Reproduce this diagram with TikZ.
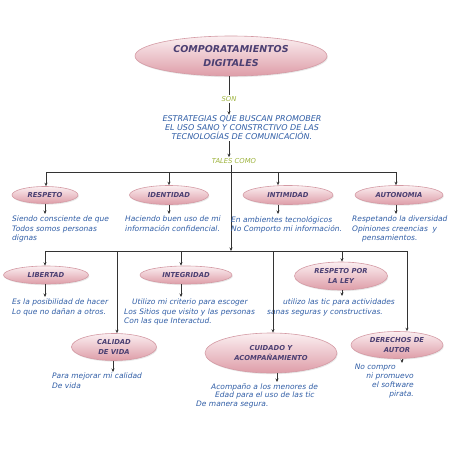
\documentclass[tikz,border=0pt]{standalone}
\usepackage{fontspec}
\setmainfont{DejaVu Sans}
\usetikzlibrary{arrows.meta,shapes.geometric,shadows}
\definecolor{txtblue}{HTML}{2F5DA6}
\definecolor{lblpurple}{HTML}{4B3F72}
\definecolor{songreen}{HTML}{9DB33C}
\definecolor{pinktop}{HTML}{FBEFF1}
\definecolor{pinkfill}{HTML}{DE9DA8}
\definecolor{pinkdraw}{HTML}{D49AA4}
\definecolor{linegray}{HTML}{333333}
\tikzset{
  ell/.style={ellipse, draw=pinkdraw, line width=0.6pt, top color=pinktop, bottom color=pinkfill,
    inner sep=0pt, font=\fontsize{6.8}{9.5}\selectfont\bfseries\itshape, text=lblpurple, align=center,
    drop shadow={opacity=0.18, shadow xshift=0.8pt, shadow yshift=-1.2pt}},
  body/.style={font=\fontsize{7.5}{9.5}\selectfont\itshape, text=txtblue, inner sep=0pt, align=left, anchor=north west},
  link/.style={draw=linegray, line width=0.7pt},
  arr/.style={link, -{Stealth[length=3.5pt,width=3pt]}},
}
\begin{document}
\begin{tikzpicture}[x=1pt,y=-1pt]
\useasboundingbox[fill=white] (0,0) rectangle (453,453);
% title
\node[ell, minimum width=192pt, minimum height=40pt, font=\fontsize{9.5}{14}\selectfont\bfseries\itshape] (title) at (231,56) {COMPORATAMIENTOS\\DIGITALES};
\node[font=\fontsize{6.8}{8}\selectfont\itshape, text=songreen, inner sep=1pt] (son) at (229,99) {SON};
\node[font=\fontsize{8}{9}\selectfont\itshape, text=txtblue, align=center, inner sep=1pt] (estr) at (242,128) {ESTRATEGIAS QUE BUSCAN PROMOBER\\EL USO SANO Y CONSTRCTIVO DE LAS\\TECNOLOGÍAS DE COMUNICACIÓN.};
\node[font=\fontsize{6.8}{8}\selectfont\itshape, text=songreen, inner sep=1pt] (tales) at (234,161) {TALES COMO};
\draw[link] (son.north |- title.south) -- (son.north);
\draw[arr] (son.south) -- (son.south |- estr.north);
\draw[arr] (son.south |- estr.south) -- (son.south |- tales.north);
% junctions
\coordinate (j1) at (231,172);
\coordinate (j2) at (231,251);
\coordinate (b1l) at (46,172);
\coordinate (b1b) at (169,172);
\coordinate (b1c) at (278,172);
\coordinate (b1r) at (396,172);
\coordinate (b2a) at (45,251);
\coordinate (b2b) at (117,251);
\coordinate (b2c) at (181,251);
\coordinate (b2d) at (273,251);
\coordinate (b2e) at (342,251);
\coordinate (b2f) at (407,251);
\draw[arr] (tales.south -| j1) -- (j2);
\draw[link] (b1l) -- (b1r);
\draw[link] (b2a) -- (b2f);
% row 1
\node[ell, minimum width=66pt, minimum height=17pt] (respeto) at (45,195) {RESPETO};
\node[ell, minimum width=79pt, minimum height=19pt] (identidad) at (169,195) {IDENTIDAD};
\node[ell, minimum width=90pt, minimum height=19pt] (intimidad) at (288,195) {INTIMIDAD};
\node[ell, minimum width=88pt, minimum height=19pt] (autonomia) at (399,195) {AUTONOMIA};
\draw[arr] (b1l) -- (b1l |- respeto.north);
\draw[arr] (b1b) -- (b1b |- identidad.north);
\draw[arr] (b1c) -- (b1c |- intimidad.north);
\draw[arr] (b1r) -- (b1r |- autonomia.north);
\node[body] (rtxt) at (12,216) {Siendo consciente de que\\Todos somos personas\\dignas};
\node[body] (idtxt) at (125,216) {Haciendo buen uso de mi\\información confidencial.};
\node[body] (intxt) at (231,216) {En ambientes tecnológicos\\No Comporto mi información.};
\node[body] (autxt) at (352,216) {Respetando la diversidad\\Opiniones creencias\ \ y\\\hspace*{10pt}pensamientos.};
\draw[arr, shorten >=2pt] (respeto.south) -- (respeto.south |- rtxt.north);
\draw[arr, shorten >=2pt] (identidad.south -| b1b) -- (b1b |- idtxt.north);
\draw[arr, shorten >=2pt] (intimidad.south -| b1c) -- (b1c |- intxt.north);
\draw[arr, shorten >=2pt] (autonomia.south -| b1r) -- (b1r |- autxt.north);
% row 2
\node[ell, minimum width=85pt, minimum height=18pt] (libertad) at (46,275) {LIBERTAD};
\node[ell, minimum width=92pt, minimum height=18pt] (integridad) at (186,275) {INTEGRIDAD};
\node[ell, minimum width=93pt, minimum height=28pt] (ley) at (341,276) {RESPETO POR\\LA LEY};
\draw[arr] (b2a) -- (b2a |- libertad.north);
\draw[arr] (b2c) -- (b2c |- integridad.north);
\draw[arr] (b2e) -- (b2e |- ley.north);
\node[body] (libtxt) at (12,299) {Es la posibilidad de hacer\\Lo que no dañan a otros.};
\node[body] (intgtxt) at (124,299) {\hspace*{8pt}Utilizo mi criterio para escoger\\Los Sitios que visito y las personas\\Con las que Interactud.};
\node[body] (leytxt) at (267,299) {\hspace*{16pt}utilizo las tic para actividades\\sanas seguras y constructivas.};
\draw[arr, shorten >=2pt] (libertad.south -| b2a) -- (b2a |- libtxt.north);
\draw[arr, shorten >=2pt] (integridad.south -| b2c) -- (b2c |- intgtxt.north);
\draw[arr, shorten >=3pt] (ley.south -| b2e) -- (b2e |- leytxt.north);
% row 3
\node[ell, minimum width=85pt, minimum height=27pt] (calidad) at (114,347) {CALIDAD\\DE VIDA};
\node[ell, minimum width=132pt, minimum height=40pt] (cuidado) at (271,353) {CUIDADO Y\\ACOMPAÑAMIENTO};
\node[ell, minimum width=92pt, minimum height=27pt] (derechos) at (397,345) {DERECHOS DE\\AUTOR};
\draw[arr] (b2b) -- (b2b |- calidad.north);
\draw[arr] (b2d) -- (b2d |- cuidado.north);
\draw[arr] (b2f) -- (b2f |- derechos.north);
\node[body] (caltxt) at (52,373) {Para mejorar mi calidad\\De vida};
\node[body, font=\fontsize{7.5}{8.5}\selectfont\itshape] (cuitxt) at (196,383) {\hspace*{15pt}Acompaño a los menores de\\\hspace*{19pt}Edad para el uso de las tic\\De manera segura.};
\node[body, align=right, anchor=north east, font=\fontsize{7.5}{9}\selectfont\itshape] (dertxt) at (414,364) {No compro\rule{18pt}{0pt}\\ni promuevo\\el software\\pirata.};
\coordinate (c3a) at (113,0);
\coordinate (c3b) at (277,0);
\coordinate (c3c) at (402,0);
\draw[arr, shorten >=1pt] (c3a |- calidad.south) -- (c3a |- caltxt.north);
\draw[arr, shorten >=1pt] (c3b |- cuidado.south) -- (c3b |- cuitxt.north);
\draw[arr, shorten >=1pt] (c3c |- derechos.south) -- (c3c |- dertxt.north);
\end{tikzpicture}
\end{document}
